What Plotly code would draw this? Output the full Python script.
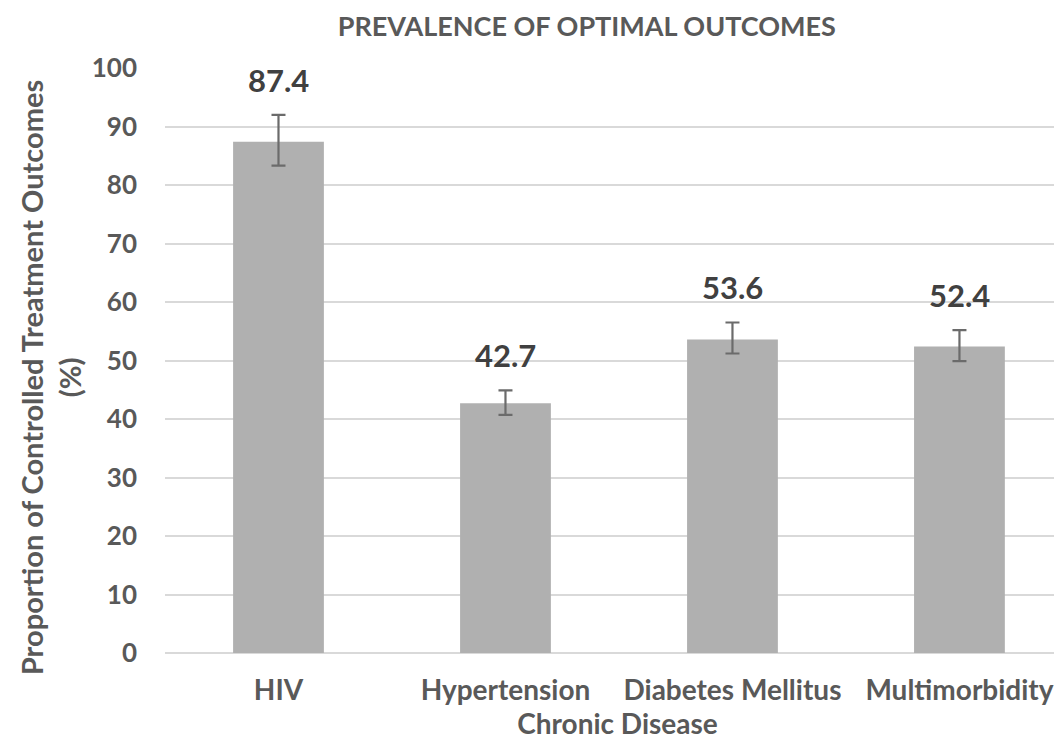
import plotly.graph_objects as go

categories = ["HIV", "Hypertension", "Diabetes Mellitus", "Multimorbidity"]
values = [87.4, 42.7, 53.6, 52.4]
err_plus = [4.6, 2.2, 2.9, 2.8]
err_minus = [4.1, 2.0, 2.4, 2.5]
yticks = list(range(0, 101, 10))

FONT = "Lato"
TXT = "#595959"

xpos = list(range(len(categories)))

fig = go.Figure()
fig.add_trace(go.Bar(
    x=xpos, y=values,
    marker=dict(color="#b0b0b0", line=dict(width=0)),
    error_y=dict(type="data", symmetric=False, array=err_plus, arrayminus=err_minus,
                 color="#6b6b6b", thickness=2.2, width=7),
    width=0.4,
))
for xp, v, ep in zip(xpos, values, err_plus):
    fig.add_annotation(x=xp, y=v + ep, text=f"<b>{v}</b>", showarrow=False, yshift=35,
                       font=dict(family=FONT, size=31, color="#404040"))

# y-axis title as annotation (slightly below vertical centre, as in the original)
fig.add_annotation(xref="paper", yref="paper", x=-0.127, y=0.47, xanchor="center", yanchor="middle",
                   text="<b>Proportion of Controlled Treatment Outcomes<br>(%)</b>",
                   textangle=-90, showarrow=False, font=dict(family=FONT, size=29, color=TXT))

fig.update_layout(
    width=1062, height=738,
    margin=dict(l=157, r=0, t=60, b=93),
    paper_bgcolor="white", plot_bgcolor="white",
    showlegend=False,
    title=dict(text="<b>PREVALENCE OF OPTIMAL OUTCOMES</b>", x=0.545, xanchor="center",
               y=0.975, yanchor="middle", font=dict(family=FONT, size=27, color=TXT)),
    font=dict(family=FONT, color=TXT),
)
fig.update_yaxes(range=[0, 100], tickvals=yticks, ticktext=[f"<b>{t}</b>" for t in yticks],
                 tickfont=dict(size=26, color=TXT), showgrid=True, gridcolor="#d9d9d9",
                 gridwidth=1.5, zeroline=True, zerolinecolor="#d9d9d9", zerolinewidth=1.5,
                 ticks="", ticklabelstandoff=27, automargin=False)
fig.update_xaxes(range=[-0.5, 3.487], tickvals=xpos, ticktext=[f"<b>{c}</b>" for c in categories],
                 tickfont=dict(size=28, color=TXT), showline=False, ticks="", automargin=False,
                 ticklabelstandoff=18, tickangle=0,
                 title=dict(text="<b>Chronic Disease</b>", font=dict(size=28, color=TXT), standoff=4))

fig.write_html("out.html")
